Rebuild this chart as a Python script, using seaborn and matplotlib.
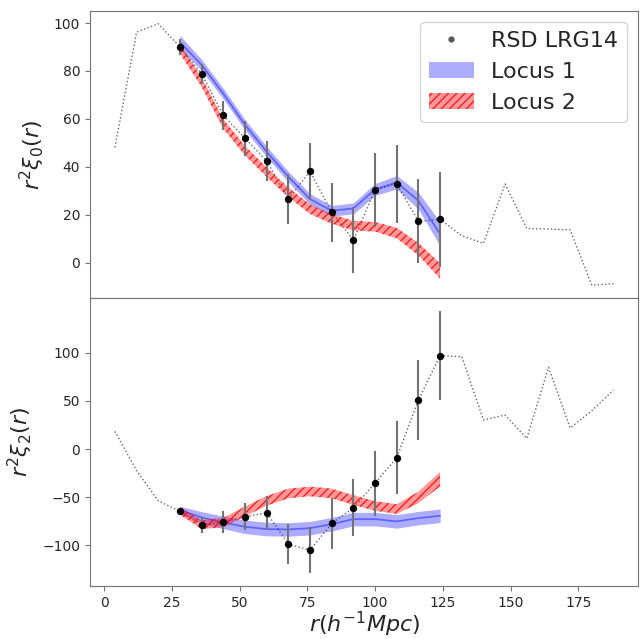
import numpy as np
import pandas as pd
import matplotlib
matplotlib.use("Agg")
import matplotlib.pyplot as plt
import seaborn as sns
from matplotlib.lines import Line2D
from matplotlib.patches import Patch

# ---- data ----
r_full = [4, 12, 20, 28, 36, 44, 52, 60, 68, 76, 84, 92, 100, 108, 116, 124,
          132, 140, 148, 156, 164, 172, 180, 188]
xi0_full = [48.1, 96.2, 99.7, 90.0, 78.8, 61.4, 51.9, 42.4, 26.5, 38.1, 20.9, 9.4,
            30.3, 32.8, 17.2, 18.0, 11.2, 8.0, 32.8, 14.2, 14.0, 13.6, -9.5, -8.8]
xi2_full = [18.3, -22.5, -53.7, -64.8, -78.9, -75.8, -70.3, -66.1, -98.7, -104.9,
            -77.2, -61.0, -35.3, -9.0, 50.9, 96.9, 95.8, 30.1, 35.3, 11.0, 84.8,
            21.8, 39.8, 61.2]

r_fit = [28, 36, 44, 52, 60, 68, 76, 84, 92, 100, 108, 116, 124]
xi0_obs = [90.0, 78.8, 61.4, 51.9, 42.4, 26.5, 38.1, 20.9, 9.4, 30.3, 32.8, 17.2, 18.0]
xi0_err = [3.5, 4.2, 6.0, 7.3, 8.5, 10.3, 11.8, 12.5, 13.6, 15.3, 16.4, 17.5, 19.8]
xi2_obs = [-64.8, -78.9, -75.8, -70.3, -66.1, -98.7, -104.9, -77.2, -61.0, -35.3,
           -9.0, 50.9, 96.9]
xi2_err = [3.0, 8.0, 11.0, 14.0, 17.0, 20.8, 23.7, 26.8, 29.4, 33.7, 37.6, 42.0, 45.9]

loc1_xi0 = [92.0, 82.5, 70.5, 57.5, 46.3, 35.8, 26.5, 21.6, 22.6, 30.5, 33.5, 25.8, 11.9]
loc1_xi0_w = [2.8, 2.3, 2.2, 2.2, 2.2, 2.2, 2.2, 2.2, 2.3, 2.5, 2.8, 3.5, 5.0]
loc2_xi0 = [89.2, 75.3, 57.9, 46.7, 37.7, 29.3, 22.3, 18.2, 15.4, 14.9, 12.3, 5.6, -3.5]
loc2_xi0_w = [2.0, 2.0, 2.0, 2.0, 2.0, 2.0, 2.0, 2.0, 2.0, 2.0, 2.2, 2.6, 3.2]

loc1_xi2 = [-63.4, -71.0, -76.2, -80.7, -83.1, -83.5, -82.1, -78.0, -72.7, -72.7,
            -75.1, -71.7, -69.3]
loc1_xi2_w = [4.0, 6.0, 6.5, 7.0, 7.0, 7.0, 7.0, 7.0, 7.0, 7.0, 7.0, 7.0, 7.0]
loc2_xi2 = [-64.1, -78.6, -76.2, -64.8, -53.7, -46.1, -44.0, -46.1, -53.0, -59.0,
            -62.3, -50.2, -31.2]
loc2_xi2_w = [4.0, 4.5, 5.0, 5.0, 5.0, 5.0, 5.0, 5.0, 5.0, 5.0, 5.0, 6.0, 7.5]

sns.set_style("white")
plt.rcParams["font.family"] = ["DejaVu Sans"]
plt.rcParams["hatch.linewidth"] = 1.0

fig = plt.figure(figsize=(6.4, 6.39), dpi=100)
ax1 = fig.add_axes([0.1406, 0.5331, 0.857, 0.4502])
ax2 = fig.add_axes([0.1406, 0.0829, 0.857, 0.4502], sharex=ax1)

full = pd.DataFrame({"r": r_full, "xi0": xi0_full, "xi2": xi2_full})
fit = pd.DataFrame({"r": r_fit, "xi0": xi0_obs, "e0": xi0_err,
                    "xi2": xi2_obs, "e2": xi2_err,
                    "l1_0": loc1_xi0, "w1_0": loc1_xi0_w,
                    "l2_0": loc2_xi0, "w2_0": loc2_xi0_w,
                    "l1_2": loc1_xi2, "w1_2": loc1_xi2_w,
                    "l2_2": loc2_xi2, "w2_2": loc2_xi2_w})

def draw(ax, col, ecol, l1, w1, l2, w2):
    sns.lineplot(data=full, x="r", y=col, ax=ax, color="0.4", lw=1.0,
                 linestyle=":", zorder=2)
    r = fit["r"].to_numpy()
    ax.fill_between(r, fit[l1] - fit[w1], fit[l1] + fit[w1], color="blue",
                    alpha=0.32, lw=0, zorder=3)
    sns.lineplot(data=fit, x="r", y=l1, ax=ax, color="blue", alpha=0.45,
                 lw=1.2, zorder=3)
    ax.fill_between(r, fit[l2] - fit[w2], fit[l2] + fit[w2], facecolor=(1, 0, 0, 0.4),
                    edgecolor=(1, 0, 0, 0.8), hatch="////", lw=0, zorder=4)
    ax.errorbar(r, fit[col], yerr=fit[ecol], fmt="none", ecolor="0.45",
                elinewidth=1.5, zorder=5)
    sns.scatterplot(data=fit, x="r", y=col, ax=ax, color="black", s=28,
                    edgecolor="black", linewidth=0, zorder=6)

draw(ax1, "xi0", "e0", "l1_0", "w1_0", "l2_0", "w2_0")
draw(ax2, "xi2", "e2", "l1_2", "w1_2", "l2_2", "w2_2")

for ax in (ax1, ax2):
    for s in ax.spines.values():
        s.set_color("0.45")
    ax.tick_params(axis="both", which="both", direction="out", length=3.5,
                   width=0.8, color="0.45", labelsize=10, left=True, bottom=True)

ax1.tick_params(axis="x", bottom=False, labelbottom=False)
ax1.set_yticks([0, 20, 40, 60, 80, 100])
ax2.set_yticks([-100, -50, 0, 50, 100])
ax2.set_xticks([0, 25, 50, 75, 100, 125, 150, 175])

ax1.set_xlabel("")
ax1.set_ylabel(r"$r^2\xi_0(r)$", fontsize=16, labelpad=5)
ax2.set_ylabel(r"$r^2\xi_2(r)$", fontsize=16, labelpad=5)
ax2.set_xlabel(r"$r(h^{-1}Mpc)$", fontsize=16, labelpad=0)

handles = [Line2D([], [], marker=".", color="0.35", linestyle="none", markersize=7),
           Patch(facecolor=(0, 0, 1, 0.32), edgecolor="none"),
           Patch(facecolor=(1, 0, 0, 0.4), edgecolor=(1, 0, 0, 0.8), hatch="////", lw=0)]
ax1.legend(handles, ["RSD LRG14", "Locus 1", "Locus 2"], loc="upper right",
           fontsize=16, frameon=True, handlelength=2.0)

fig.savefig("out.png", dpi=100)
